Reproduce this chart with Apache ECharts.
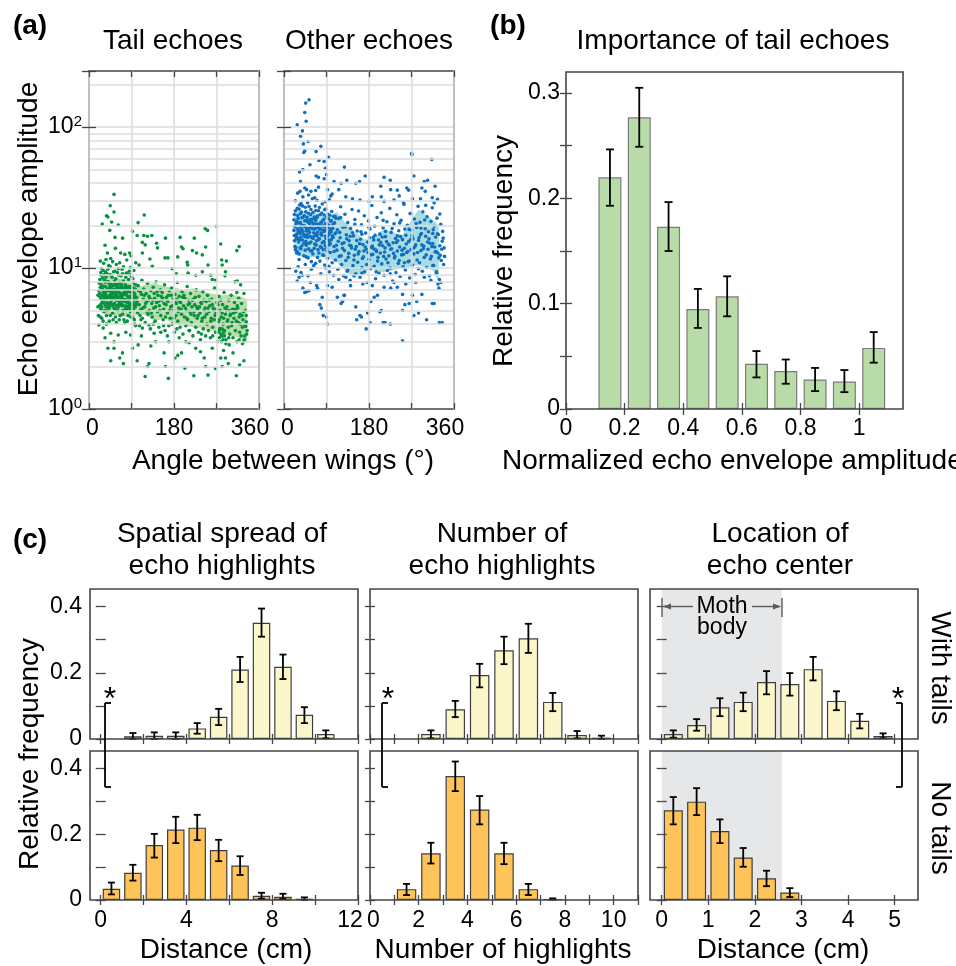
<!DOCTYPE html>
<html><head><meta charset="utf-8">
<script src="https://cdn.jsdelivr.net/npm/echarts@6/dist/echarts.min.js"></script>
<style>html,body{margin:0;padding:0;background:#fff}#c{width:956px;height:966px}</style>
</head><body><div id="c"></div>
<script>
// ---------------- DATA ----------------
// (a) scatter: [angle between wings (deg), echo envelope amplitude]
const tailEchoes = [
[22,7.8],[24,6.2],[25,5.1],[26,8.9],[27,4.4],[28,7.1],[29,5.8],[30,9.6],[31,6.7],[32,4.9],[33,8.2],[34,5.5],[35,7.4],[36,6.1],[37,4.6],[38,9.1],[39,6.9],[40,5.3],[41,8.0],[42,7.2],[43,4.2],[44,6.4],[45,10.2],[46,5.7],[47,7.7],[48,6.0],[49,8.6],[50,4.8],[51,6.6],[52,9.4],[53,5.2],[54,7.0],[55,6.3],[56,4.5],[57,8.4],[58,5.9],[59,7.5],[60,6.8],[61,5.0],[62,9.9],[63,6.2],[64,4.3],[65,7.9],[66,5.6],[67,6.5],[68,8.8],[69,5.4],[70,7.3],[71,4.7],[72,6.0],[73,8.1],[74,5.8],[75,6.9],[76,4.1],[77,7.6],[78,5.3],[79,9.2],[80,6.4],[81,5.1],[82,7.0],[83,4.6],[84,8.3],[85,6.1],[86,5.5],[87,7.4],[88,4.9],[89,6.7],[90,8.7],[91,5.2],[92,6.3],[93,4.4],[94,7.8],[95,5.9],[96,6.6],[97,4.0],[98,7.1],[99,5.6],
[23,6.6],[26,5.6],[29,7.0],[31,5.9],[34,6.5],[36,8.6],[39,5.0],[41,6.3],[44,7.6],[46,6.8],[49,5.4],[52,6.1],[54,8.1],[57,5.1],[59,6.4],[62,7.2],[64,5.8],[67,7.4],[69,6.2],[72,5.0],[74,7.1],[77,6.0],[79,5.4],[82,6.8],[84,5.7],[87,6.3],[89,5.0],[92,7.3],[94,5.5],[97,6.2],[27,6.0],[33,6.9],[38,5.7],[43,5.2],[48,7.0],[53,6.7],[58,7.2],[63,5.5],[68,6.0],[73,6.6],[78,7.3],[83,5.9],[88,7.0],[93,6.0],[98,5.3],[19,5.3],[20,4.6],[19,6.4],
[21,6.9],[22,5.4],[23,8.3],[24,7.3],[25,6.0],[26,7.6],[27,5.3],[28,6.4],[29,8.5],[30,5.7],[31,7.4],[32,6.2],[33,5.0],[34,7.9],[35,6.6],[36,5.3],[37,7.0],[38,6.3],[39,8.0],[40,6.1],[41,5.6],[42,6.9],[43,7.8],[44,5.5],[45,6.2],[46,7.3],[47,5.9],[48,6.5],[49,7.1],[50,6.2],[51,5.5],[52,7.5],[53,6.0],[54,5.6],[55,7.7],[56,6.6],[57,6.0],[58,5.4],[59,6.9],[60,7.6],[61,6.1],[62,5.3],[63,7.8],[64,6.7],[65,5.6],[66,7.1],[67,5.8],[68,6.6],[69,7.7],[70,5.5],[71,6.4],[72,7.3],[73,5.4],[74,6.5],[75,5.9],[76,7.0],[77,5.1],[78,6.6],[79,7.0],[80,5.7],[81,6.9],[82,5.3],[83,7.4],[84,6.2],[85,5.2],[86,7.2],[87,5.6],[88,6.8],[89,5.4],[90,6.0],[91,7.0],[92,5.6],[93,6.8],[94,5.1],[95,7.1],[96,5.4],[97,6.5],[98,6.0],[99,7.6],[100,5.5],
[24,4.5],[30,4.2],[37,4.0],[45,4.6],[51,4.3],[58,4.1],[66,4.6],[74,4.3],[81,4.2],[89,4.5],[96,4.3],[25,9.3],[32,9.0],[40,9.8],[47,8.9],[55,9.5],[63,8.9],[71,9.1],[78,8.6],[86,9.0],[93,8.4],
[101,6.2],[103,4.8],[104,7.5],[106,5.5],[107,3.9],[109,6.8],[110,5.1],[112,8.2],[113,4.4],[115,6.0],[116,7.1],[118,5.3],[119,4.1],[121,6.6],[122,5.8],[124,7.8],[125,4.7],[127,6.3],[128,5.0],[130,3.7],[131,6.9],[133,5.6],[134,4.5],[136,7.3],[137,5.2],[139,6.1],[140,4.2],[142,8.0],[143,5.7],[145,4.9],[146,6.4],[148,3.8],[149,5.4],[151,7.0],[152,4.6],[154,5.9],[155,6.7],[157,4.3],[158,5.1],[160,7.6],[161,3.6],[163,5.5],[164,6.2],[166,4.8],[167,5.8],[169,3.9],[170,6.9],[172,4.4],[173,5.3],[175,7.2],[176,4.0],[178,6.0],[179,5.0],[181,3.5],[182,6.5],[184,4.6],[185,5.6],[187,7.9],[188,4.2],[190,5.2],[191,6.3],[193,3.8],[194,5.7],[196,4.7],[197,6.8],[199,3.4],[200,5.4],[202,4.5],[203,6.1],[205,3.9],[206,5.0],[208,7.4],[209,4.3],[211,5.9],[212,3.6],[214,4.9],[215,6.6],[217,4.1],[218,5.3],[220,3.3],[221,6.0],[223,4.6],[224,5.5],[226,3.8],[227,7.0],[229,4.4],[230,5.1],[232,3.5],[233,6.3],[235,4.8],[236,3.1],[238,5.6],[239,4.2],[241,6.8],[242,3.7],[244,5.0],[245,4.5],[247,3.3],[248,5.8],[250,4.0],[251,6.4],[253,3.6],[254,4.9],[256,5.4],[257,3.2],[259,4.4],[260,6.0],[262,3.8],[263,5.2],[265,4.3],[266,7.2],[268,3.5],[269,4.8],[271,5.7],[272,3.0],[274,4.1],[275,6.3],[277,3.7],[278,5.0],[280,4.5],[281,3.3],[283,5.5],[284,4.0],[286,6.7],[287,3.6],[289,4.7],[290,3.1],[292,5.3],[293,4.2],[295,3.8],[296,5.9],[298,3.4],[299,4.6],[301,6.4],[302,3.9],[304,5.1],[305,3.2],[307,4.4],[308,5.7],[310,3.6],[311,4.9],[313,3.0],[314,5.4],[316,4.1],[317,6.1],[319,3.5],[320,4.7],[322,3.3],[323,5.6],[325,3.8],[326,4.3],[328,6.6],[329,3.1],[331,5.0],[332,4.0],[334,3.4],
[102,5.8],[108,4.6],[111,6.5],[114,5.2],[120,5.6],[123,4.9],[129,6.1],[132,4.8],[135,5.9],[141,5.3],[144,6.8],[150,5.0],[153,6.3],[159,5.6],[162,4.5],[168,6.4],[171,5.0],[177,5.4],[180,4.4],[186,6.0],[189,4.9],[195,5.1],[198,6.2],[204,5.2],[207,4.4],[213,5.6],[216,4.7],[222,4.9],[225,6.2],[231,4.6],[234,5.3],[240,4.4],[243,5.9],[249,4.7],[252,5.2],[258,4.2],[261,5.5],[267,4.6],[270,5.1],[276,4.3],[279,5.9],[285,4.4],[288,5.2],[294,4.3],[297,5.0],[303,4.1],[306,4.8],[312,4.2],[315,5.2],[321,4.0],[324,4.6],[330,3.9],[333,4.6],[335,3.6],[110,4.3],[136,4.0],[158,3.9],[186,3.7],[213,3.6],[238,3.4],[262,3.3],[296,3.2],[318,3.1],[330,3.3],
[105,6.9],[117,6.4],[126,5.9],[138,6.6],[147,5.8],[156,6.1],[165,5.9],[174,6.4],[183,5.7],[192,5.8],[201,6.4],[210,5.5],[219,5.9],[228,5.3],[237,5.7],[246,5.2],[255,5.9],[264,5.0],[273,5.5],[282,4.8],[291,5.0],[300,4.7],[309,5.1],[318,4.5],[327,4.9],[280,3.0],[284,3.1],[276,3.2],[290,2.9],[273,3.5],[276,3.6],[279,3.4],[282,3.7],[285,3.5],[287,3.3],[277,3.7],[283,3.3],
[53,33.3],[45,27.7],[37,23.5],[40,23],[53,25],[28,20.5],[48,21.2],[62,20.2],[104,21],[117,23.8],[44,18.5],[92,18.2],[55,16.5],[71,16.3],[116,17],[124,16.8],[133,17],[102,17],[162,16.3],[193,16.5],[223,16.3],[246,19],[251,18.5],[270,19.8],[279,14.8],[318,14.2],[313,13.3],[113,15.2],[119,14.6],[143,15],[145,13.9],[196,14.1],[199,13.7],[247,14.1],[219,13.3],[228,12.8],[240,12.4],[161,11.8],[167,11.8],[188,12],[208,11],[209,10.5],[252,10.5],[281,11.4],[291,11.2],[282,10.5],[34,14.5],[39,12.8],[46,11.7],[56,13.8],[67,12.8],[76,12.5],[86,12.8],[89,12.2],[113,12.8],[129,11.6],[99,10.9],[106,10.5],[134,10.3],[176,9.9],[185,9.1],[210,9.2],[226,8.9],[240,9.4],[258,8.9],[261,8.3],[268,8.2],[289,9.4],[288,8.8],[309,8.0],[314,8.1],[321,7.6],[313,6.7],
[24,11.2],[31,10.8],[36,11.5],[42,10.4],[50,11.1],[58,10.6],[65,10.9],[73,10.2],[80,11.4],[88,10.1],[95,9.6],[27,9.9],[35,9.4],[44,9.0],[60,9.3],[70,9.8],[85,9.5],
[46,2.2],[71,2.5],[65,2.3],[73,2.1],[102,2.2],[119,1.7],[124,2.0],[127,2.1],[131,2.8],[159,2.5],[162,2.0],[168,1.65],[182,2.3],[203,1.95],[222,1.72],[247,2.0],[252,1.74],[268,1.94],[282,2.0],[289,2.3],[295,2.1],[312,1.72],[319,2.05],[328,2.2],[40,2.7],[53,2.7],[92,2.7],[104,2.85],[111,3.3],[141,3.0],[169,3.0],[188,2.4],[196,2.5],[212,2.95],[226,2.7],[236,2.55],[244,2.3],[261,2.7],[279,2.3],[285,2.6],[297,2.85],[305,2.5],[325,2.9],[332,3.85],[333,4.15],[327,3.0],[191,3.2],[205,3.0],[152,3.5],[166,3.3],[21,3.95],[30,3.75],[34,3.2],[46,3.45],[53,3.0],[62,3.35],[78,3.5],[88,3.35],[99,3.9],[113,3.75],[127,3.95],[138,3.45]
];
const otherEchoes = [
[21,18.5],[22,24],[23,14.2],[24,30],[25,20.5],[26,16],[27,12.8],[28,26.5],[29,19],[30,22.5],[31,15.3],[32,11.5],[33,28],[34,17.6],[35,21],[36,13.7],[37,25],[38,18.8],[39,15.8],[40,32],[41,20],[42,12.2],[43,23.5],[44,16.7],[45,27],[46,19.5],[47,14.5],[48,21.8],[49,17.2],[50,29],[51,11.8],[52,24.5],[53,18.2],[54,15],[55,22],[56,13.2],[57,26],[58,19.8],[59,16.4],[60,31],[61,12.6],[62,20.8],[63,17.8],[64,23],[65,14.8],[66,27.5],[67,10.8],[68,19.2],[69,15.6],[70,22.8],[71,18],[72,13.5],[73,25.5],[74,16.2],[75,20.2],[76,11.2],[77,24],[78,17.4],[79,14],[80,21.2],[81,28.5],[82,12.4],[83,18.6],[84,15.4],[85,23.8],[86,10.5],[87,19.6],[88,16.8],[89,26.2],[90,13.8],[91,20.6],[92,11.7],[93,17],[94,22.4],[95,14.6],[96,30.5],[97,18.4],[98,12.9],[99,21.5],[100,15.9],[101,25.2],[102,10.9],[103,19.1],[104,16.5],[105,23.2],[106,13.1],[107,20.9],[108,17.5],[109,11.4],[110,22.6],
[22,17],[25,16.8],[27,21.5],[30,18.2],[33,15.9],[35,19.6],[38,22.7],[41,17.3],[43,19.9],[46,15.5],[48,18.8],[51,21.1],[54,17.9],[56,19.3],[59,22.2],[61,16.6],[64,18.9],[67,21.7],[69,17.5],[72,20.4],[75,16.1],[77,19],[80,17.1],[83,21.9],[85,15.2],[88,18.5],[91,16.3],[94,19.7],[97,15.1],[100,18.1],[24,13.5],[32,12.6],[47,12.0],[58,11.1],[71,11.9],[84,12.3],[95,10.3],[36,28.7],[52,33],[65,31.5],[29,34],[44,37],[57,35],[70,30.2],[87,29.5],[99,32.5],
[21,22],[22,15.6],[23,19.6],[24,25.5],[25,14],[26,21.3],[27,17.4],[28,13.1],[29,23.6],[30,16.3],[31,20.9],[32,26.2],[33,18.4],[34,13.9],[35,24.3],[36,16.6],[37,20.1],[38,14.4],[39,27.6],[40,18.1],[41,23],[42,15],[43,17.2],[44,21.6],[45,13.4],[46,25.1],[47,18.3],[48,14.9],[49,22.9],[50,16.5],[51,19.1],[52,13.7],[53,27.3],[54,20.7],[55,16.8],[56,23.9],[57,15.3],[58,21.4],[59,13.3],[60,19],[61,24.8],[62,16.2],[63,20.2],[64,13.8],[65,22.4],[66,17.1],[67,25.6],[68,14.6],[69,20.5],[70,16.9],[71,23.4],[72,15.8],[73,19.4],[74,12.8],[75,26.9],[76,18.7],[77,14.2],[78,21],[79,17.7],[80,24.6],[81,15.1],[82,19.9],[83,13.5],[84,22.1],[85,18.2],[86,25.9],[87,14.4],[88,20.7],[89,16.2],[90,22.9],[91,13.2],[92,19.3],[93,24.2],[94,15.7],[95,20],[96,17.6],[97,23.7],[98,14.8],[99,18.9],[100,21.7],[102,16.9],[104,20.4],[106,14.2],[108,23.3],[110,17.8],
[111,14.5],[113,18.7],[114,9.8],[116,22.5],[117,12.1],[119,16.4],[120,27.2],[122,10.6],[123,14.9],[125,19.5],[126,8.8],[128,13.3],[129,24.1],[131,11.3],[132,17.2],[134,9.5],[135,21],[137,12.7],[138,15.6],[140,8.2],[141,19.1],[143,13.9],[144,26],[146,10.4],[147,16.9],[149,12.3],[150,22.1],[152,9.1],[153,14.2],[155,18.3],[156,11],[158,25.4],[159,13.1],[161,8.6],[162,16],[164,20.3],[165,10.1],[167,14.7],[168,12],[170,23.5],[171,9.4],[173,17.7],[174,13.6],[176,7.9],[177,15.3],[179,21.6],[180,11.5],[182,18.9],[183,9.9],[185,14],[186,27.8],[188,12.5],[189,16.5],[191,10.3],[192,19.8],[194,8.4],[195,13.4],[197,22.8],[198,11.2],[200,15.8],[201,9.2],[203,17.4],[204,12.8],[206,24.7],[207,10.7],[209,14.4],[210,19.3],[212,8.9],[213,13],[215,16.7],[216,11.6],[218,21.3],[219,9.6],[221,14.8],[222,12.2],[224,26.5],[225,10],[227,17.9],[228,13.7],[230,8.1],[231,15.1],[233,20.6],[234,11.8],[236,16.2],[237,9.3],[239,23.9],[240,13.2],[242,10.8],[243,18.4],[245,14.1],[246,8.7],[248,21.8],[249,12.4],[251,15.9],[252,10.2],[254,28.3],[255,13.8],[257,9.7],[258,17.1],[260,12.9],[261,20.1],[263,11.1],[264,15.4],[266,8.5],[267,24.4],[269,13.5],[270,18.6],[272,10.5],[273,16.1],[275,12.6],[276,22.3],[278,9],[279,14.6],[281,19.4],[282,11.4],[284,27.4],[285,15.7],[287,10.9],[288,21.1],[290,13.3],[291,17.6],[293,9.5],[294,25.1],[296,14.3],[297,11.9],[299,19],[300,16.8],[302,10.1],[303,23.1],[305,13.6],[306,18.1],[308,8.8],[309,15],[311,21.4],[312,12.1],[314,26.8],[315,14.9],[317,10.4],[318,19.7],[320,13],[321,16.6],[323,9.4],[324,22.6],[326,12.8],[327,17.3],[329,8.3],[330,14.4],[332,20.4],[333,11.3],[335,15.5],[336,18.2],[338,10.6],[339,13.9],
[112,13.4],[118,17.9],[121,12.2],[127,15.1],[130,19.6],[136,11.9],[139,14.5],[145,17.8],[148,11.4],[154,15.7],[157,12.6],[163,18.1],[166,11.7],[172,14.1],[175,10.6],[181,16.4],[184,12.4],[190,13.7],[193,17.1],[199,11.9],[202,14.6],[208,16.6],[211,12.1],[217,15.4],[220,10.9],[226,13.6],[229,19.1],[235,12.1],[238,15.2],[244,11.3],[247,16.7],[253,12.5],[256,18.9],[262,13.1],[265,11.2],[271,16.9],[274,13.9],[280,20.7],[283,12.9],[289,17.2],[292,14.6],[298,21.9],[301,12.4],[307,16.1],[310,11.6],[316,18.7],[319,14.1],[325,17.5],[328,11.8],[334,13.6],[337,16.3],[340,12.1],[120,22.8],[150,20.4],[180,19.4],[210,21.8],[245,20.9],[270,24.3],[300,27.9],[330,24.2],[135,9.7],[165,9.2],[195,9.4],[225,9.1],[255,10.9],[285,9.9],[315,10.4],
[115,15.5],[124,13.8],[133,16.1],[142,14.4],[151,13.6],[160,14.9],[169,13.2],[178,12.9],[187,14.3],[196,13.1],[205,15.2],[214,13.9],[223,14.5],[232,12.7],[241,15.6],[250,13.4],[259,14.8],[268,15.9],[277,14.1],[286,16.4],[295,13.7],[304,15.3],[313,14.2],[322,13.1],[331,12.3],[140,16.8],[165,17.4],[190,15.8],[215,18.2],[240,16.9],[265,18.8],[290,19.2],[315,17.6],
[53,156],[46,148],[44,127],[47,110],[28,104],[39,94],[35,86],[51,79],[41,76],[78,73],[44,68],[42,66],[68,67],[94,61],[270,65],[271,64],[313,59],[55,54],[74,58],[85,57],[128,52],[33,48],[40,50],[68,45],[73,44],[88,51],[90,46],[35,41],[85,43],[106,41],[121,40],[133,42],[152,40],[160,41],[172,45],[212,44],[225,42],[205,38],[226,36],[240,35.7],[260,37],[264,35.7],[275,45],[297,41],[304,42],[320,38],[292,37],[299,35],[34,35],[48,36],[67,35.5],[73,37.5],[92,36],[102,33.5],[116,36],[131,32],[145,31],[161,30.4],[180,29.7],[187,32],[206,32],[212,29.7],[233,30.4],[244,32.5],[253,29],[272,31],[289,31],[314,31.5],[325,30.7],[318,29],
[76,5.5],[79,5.2],[81,6.2],[92,4.0],[83,4.6],[90,4.5],[113,6.2],[124,5.8],[127,6.4],[121,5.6],[152,5.3],[154,4.3],[161,4.6],[164,4.5],[174,3.7],[182,4.1],[184,5.8],[191,6.2],[203,4.9],[206,5.0],[210,4.1],[214,4.1],[225,4.0],[251,5.0],[251,3.05],[256,5.5],[265,5.6],[275,4.6],[285,4.8],[302,4.3],[314,5.6],[318,5.6],[329,4.1],[335,4.1],[272,6.4],[281,5.8],[292,6.5],[177,4.8],[128,6.4],[141,7.5],[40,7.2],[44,6.7],[48,6.8],[53,6.9],[71,7.2],[28,8.1],[32,8.6],[39,8.9],[51,8.8],[56,7.9],[69,7.5],[92,7.5],[102,7.3],[116,8.3],[131,8.6],[148,8.8],[167,7.7],[187,7.5],[198,6.4],[212,7.3],[226,7.2],[233,7.9],[240,7.3],[251,6.5],[258,7.7],[279,7.9],[297,8.6],[311,8.2],[328,7.2],[332,7.9],[323,9.2],[326,7.7],
[25,9.5],[30,10.2],[36,9.3],[45,10.6],[58,9.8],[63,10.4],[78,9.1],[89,10.0],[96,9.4],[105,8.9]
];
// (a) shaded bands
const tailBandAngle = [25,40,60,80,95,100,120,140,160,180,200,220,240,260,280,300,320,335];
const tailBandUpper = [9.0,8.8,8.5,8.3,8.0,7.3,7.6,7.8,7.4,7.3,7.0,7.2,6.8,6.6,6.4,6.5,6.3,6.0];
const tailBandLower = [4.8,4.7,4.6,4.5,4.3,4.8,4.6,4.2,4.4,4.0,3.9,3.8,3.7,3.6,3.4,3.3,3.2,2.9];
const otherBandAngle = [22,40,60,80,100,112,130,150,170,190,210,230,250,270,285,300,315,328];
const otherBandUpper = [26,25,25,24,24,25,21,18,16,16,19,18,17,22,26,24,22,20];
const otherBandLower = [12.5,12,12,12,11.5,11,9.5,8.5,9.5,9.8,9.3,9.6,10,10.2,10.5,10,9.6,8.0];
const logGridValues = [2,3,4,5,6,7,8,9,10,20,30,40,50,60,70,80,90,100,200];

// (b) importance of tail echoes
const ampX  = [0.15,0.25,0.35,0.45,0.55,0.65,0.75,0.85,0.95,1.05];
const ampV  = [0.220,0.277,0.173,0.095,0.107,0.043,0.036,0.028,0.026,0.058];
const ampLo = [0.193,0.249,0.150,0.077,0.088,0.030,0.024,0.017,0.016,0.044];
const ampHi = [0.2465,0.305,0.1965,0.114,0.126,0.055,0.047,0.039,0.037,0.073];

// (c) spatial spread of echo highlights (cm)
const spreadTailX  = [1.5,2.5,3.5,4.5,5.5,6.5,7.5,8.5,9.5,10.5];
const spreadTailV  = [0.008,0.01,0.01,0.032,0.067,0.21,0.351,0.218,0.073,0.015];
const spreadTailLo = [0,0,0,0.016,0.042,0.172,0.309,0.181,0.048,0.002];
const spreadTailHi = [0.018,0.02,0.02,0.048,0.091,0.248,0.394,0.255,0.096,0.026];
const spreadNoX  = [0.5,1.5,2.5,3.5,4.5,5.5,6.5,7.5,8.5,9.5];
const spreadNoV  = [0.034,0.083,0.167,0.214,0.22,0.152,0.105,0.013,0.01,0.004];
const spreadNoLo = [0.017,0.059,0.129,0.173,0.182,0.118,0.076,0.004,0.003,0];
const spreadNoHi = [0.053,0.107,0.201,0.253,0.259,0.183,0.133,0.022,0.019,0.008];
// number of echo highlights
const countTailX  = [2.5,3.5,4.5,5.5,6.5,7.5,8.5,9.5];
const countTailV  = [0.015,0.09,0.193,0.268,0.304,0.112,0.012,0.004];
const countTailLo = [0.002,0.066,0.156,0.226,0.26,0.084,0.002,0];
const countTailHi = [0.026,0.115,0.227,0.309,0.348,0.139,0.024,0.01];
const countNoX  = [1.5,2.5,3.5,4.5,5.5,6.5,7.5];
const countNoV  = [0.033,0.142,0.377,0.275,0.142,0.033,0.003];
const countNoLo = [0.015,0.111,0.331,0.23,0.109,0.015,0.001];
const countNoHi = [0.049,0.174,0.421,0.316,0.174,0.049,0.005];
// location of echo center (cm)
const centerTailX  = [0.25,0.75,1.25,1.75,2.25,2.75,3.25,3.75,4.25,4.75];
const centerTailV  = [0.015,0.042,0.096,0.112,0.172,0.166,0.211,0.115,0.055,0.009];
const centerTailLo = [0.004,0.025,0.069,0.084,0.135,0.131,0.177,0.087,0.032,0.002];
const centerTailHi = [0.026,0.06,0.123,0.14,0.205,0.199,0.248,0.144,0.076,0.017];
const centerNoX  = [0.25,0.75,1.25,1.75,2.25,2.75];
const centerNoV  = [0.273,0.299,0.21,0.129,0.066,0.023];
const centerNoLo = [0.23,0.258,0.173,0.101,0.042,0.009];
const centerNoHi = [0.313,0.34,0.245,0.158,0.089,0.036];
const mothBodyExtent = [0, 2.58];

// tick label values
const ampTicks = [0,0.2,0.4,0.6,0.8,1];
const freqTicksB = [0,0.1,0.2,0.3];
const freqTicksC = [0,0.2,0.4];
const spreadTicks = [0,4,8,12];
const countTicks = [0,2,4,6,8,10];
const centerTicks = [0,1,2,3,4,5];

// ---------------- CHART ----------------
const FONT = '"Liberation Sans", Arial, Helvetica, sans-serif';
const AX = '#454545';
const chart = echarts.init(document.getElementById('c'), null, {renderer:'canvas'});

const gridBoxes = [
  {left:89, top:71, width:170, height:338},
  {left:284, top:71, width:170, height:338},
  {left:566, top:72, width:337, height:337},
  {left:90, top:589, width:268, height:150},
  {left:90, top:751, width:268, height:149},
  {left:370, top:589, width:268, height:150},
  {left:370, top:751, width:268, height:149},
  {left:650, top:589, width:268, height:150},
  {left:650, top:751, width:268, height:149}
];
const grids = gridBoxes.map(g => Object.assign({show:true, z:10, borderColor:AX, borderWidth:1.6, backgroundColor:'transparent'}, g));

function tick(custom, len) {
  const t = {show:true, inside:true, length:len||5, lineStyle:{color:AX, width:1.3}};
  if (custom) t.customValues = custom;
  return t;
}
function lab(custom, fmt, margin, rich) {
  const l = {show:true, color:'#000', fontSize:23, fontFamily:FONT, margin:margin};
  if (custom) l.customValues = custom;
  if (fmt) l.formatter = fmt;
  if (rich) l.rich = rich;
  return l;
}
function axis(gi, pos, o) {
  return Object.assign({gridIndex:gi, type:'value', position:pos, z:11,
    axisLine:{show:false}, axisLabel:{show:false}, splitLine:{show:false}, axisTick:tick()}, o);
}
const tickRich = {
  n:{fontSize:23, fontFamily:FONT, color:'#000'},
  l:{fontSize:23, fontFamily:FONT, color:'#000', padding:[0,0,0,7]},
  r:{fontSize:23, fontFamily:FONT, color:'#000', padding:[0,18,0,0]},
  r2:{fontSize:23, fontFamily:FONT, color:'#000', padding:[0,16,0,0]}
};
const angleFmt = v => v === 0 ? '{l|0}' : (v === 360 ? '{r|360}' : (v === 180 ? '{n|180}' : ''));
const gridLineStyle = {color:'#dcdcdc', width:1.5};
const powRich = {
  b:{fontSize:23, fontFamily:FONT, color:'#000', lineHeight:26},
  s:{fontSize:15, fontFamily:FONT, color:'#000', verticalAlign:'top', lineHeight:12}
};
const powFmt = v => { const l = Math.log10(v), r = Math.round(l); return Math.abs(l - r) < 1e-6 ? '{b|10}{s|' + r + '}' : ''; };

const xAxes = [], yAxes = [];
[0,1].forEach(gi => {
  xAxes.push(axis(gi,'bottom',{min:0,max:360,interval:90,axisTick:tick(null,6),
    axisLabel:lab(null, angleFmt, 8, tickRich), splitLine:{show:true, lineStyle:gridLineStyle}}));
  xAxes.push(axis(gi,'top',{min:0,max:360,interval:90,axisTick:tick(null,6)}));
  yAxes.push(axis(gi,'left',{type:'log', logBase:10, min:1, max:250, axisTick:tick(null,7),
    axisLabel: gi === 0 ? lab(null, powFmt, 7, powRich) : {show:false}}));
  yAxes.push(axis(gi,'right',{type:'log', logBase:10, min:1, max:250, axisTick:tick(null,7)}));
});
xAxes.push(axis(2,'bottom',{min:0,max:1.15,axisTick:tick(ampTicks,6),
  axisLabel:lab(ampTicks, v => String(v), 8)}));
xAxes.push(axis(2,'top',{min:0,max:1.15,axisTick:tick(ampTicks,6)}));
yAxes.push(axis(2,'left',{min:0,max:0.32,axisTick:tick([0,0.05,0.1,0.15,0.2,0.25,0.3],6),
  axisLabel:lab(freqTicksB, v => String(v), 6)}));
yAxes.push(axis(2,'right',{min:0,max:0.32,axisTick:tick([0,0.05,0.1,0.15,0.2,0.25,0.3],6)}));
const cCols = [
  {min:-0.5, max:12, ticks:[0,2,4,6,8,10,12], labels:spreadTicks, fmt: v => v === 12 ? '{r2|12}' : '{n|' + v + '}'},
  {min:0, max:11, ticks:[0,1,2,3,4,5,6,7,8,9,10,11], labels:countTicks, fmt: v => v === 0 ? '{l|0}' : '{n|' + v + '}'},
  {min:-0.25, max:5.5, ticks:[0,1,2,3,4,5], labels:centerTicks, fmt: v => '{n|' + v + '}'}
];
const cFreqTicks = [0,0.1,0.2,0.3,0.4];
for (let col = 0; col < 3; col++) {
  for (let row = 0; row < 2; row++) {
    const gi = 3 + col*2 + row;
    const c = cCols[col];
    xAxes.push(axis(gi,'bottom',{min:c.min,max:c.max,axisTick:tick(c.ticks,5),
      axisLabel: row === 1 ? lab(c.labels, c.fmt, 9, tickRich) : {show:false}}));
    xAxes.push(axis(gi,'top',{min:c.min,max:c.max,axisTick:tick(c.ticks,5)}));
    yAxes.push(axis(gi,'left',{min:0,max:0.453,axisTick:tick(cFreqTicks,5),
      axisLabel: col === 0 ? lab(freqTicksC, v => String(v), 8) : {show:false}}));
    yAxes.push(axis(gi,'right',{min:0,max:0.453,axisTick:tick(cFreqTicks,5)}));
  }
}

function bandSeries(gi, ang, up, lo, color) {
  return {type:'custom', xAxisIndex:2*gi, yAxisIndex:2*gi, z:1, silent:true, animation:false,
    data:[[ang[0], up[0]]],
    renderItem:(params, api) => {
      const pts = [];
      for (let i = 0; i < ang.length; i++) pts.push(api.coord([ang[i], up[i]]));
      for (let i = ang.length-1; i >= 0; i--) pts.push(api.coord([ang[i], lo[i]]));
      return {type:'polygon', shape:{points:pts}, style:{fill:color}};
    }};
}
function gridLineSeries(gi) {
  return {type:'scatter', xAxisIndex:2*gi, yAxisIndex:2*gi, data:[], z:0, silent:true,
    markLine:{silent:true, symbol:['none','none'], label:{show:false}, animation:false,
      lineStyle:{color:'#dcdcdc', width:1.5, type:'solid'},
      data: logGridValues.map(v => ({yAxis:v}))}};
}
function scatterSeries(gi, data, color) {
  return {type:'scatter', xAxisIndex:2*gi, yAxisIndex:2*gi, z:3, silent:true, data:data,
    symbol:'circle', symbolSize:3.6, itemStyle:{color:color, opacity:1}};
}
function barSeries(gi, xs, vs, color, border, width) {
  return {type:'bar', xAxisIndex:2*gi, yAxisIndex:2*gi, z:3, silent:true,
    data: xs.map((x,i) => [x, vs[i]]), barWidth:width,
    itemStyle:{color:color, borderColor:border, borderWidth:1.2}};
}
function errSeries(gi, xs, lo, hi, cap) {
  return {type:'custom', xAxisIndex:2*gi, yAxisIndex:2*gi, z:5, silent:true,
    data: xs.map((x,i) => [x, lo[i], hi[i]]), encode:{x:0, y:[1,2]},
    renderItem:(params, api) => {
      const x = api.value(0);
      const p1 = api.coord([x, api.value(1)]), p2 = api.coord([x, api.value(2)]);
      const h = cap/2, st = {stroke:'#000', lineWidth:1.8};
      return {type:'group', children:[
        {type:'line', shape:{x1:p1[0], y1:p1[1], x2:p2[0], y2:p2[1]}, style:st},
        {type:'line', shape:{x1:p1[0]-h, y1:p1[1], x2:p1[0]+h, y2:p1[1]}, style:st},
        {type:'line', shape:{x1:p2[0]-h, y1:p2[1], x2:p2[0]+h, y2:p2[1]}, style:st}]};
    }};
}
function bodySeries(gi) {
  return {type:'scatter', xAxisIndex:2*gi, yAxisIndex:2*gi, data:[], z:0, silent:true,
    markArea:{silent:true, itemStyle:{color:'#e6e7e9'}, animation:false,
      data:[[{xAxis:mothBodyExtent[0]},{xAxis:mothBodyExtent[1]}]]}};
}

const LIGHT = '#fcf7cb', ORANGE = '#fec459', CBORDER = '#3f3f3f';
const series = [
  gridLineSeries(0), gridLineSeries(1),
  bandSeries(0, tailBandAngle, tailBandUpper, tailBandLower, '#b9dea8'),
  bandSeries(1, otherBandAngle, otherBandUpper, otherBandLower, '#a8dce4'),
  scatterSeries(0, tailEchoes, '#079140'),
  scatterSeries(1, otherEchoes, '#116fbf'),
  barSeries(2, ampX, ampV, '#b8dca7', '#7b7b7b', 23),
  errSeries(2, ampX, ampLo, ampHi, 8),
  barSeries(3, spreadTailX, spreadTailV, LIGHT, CBORDER, 17.5),
  errSeries(3, spreadTailX, spreadTailLo, spreadTailHi, 7),
  barSeries(4, spreadNoX, spreadNoV, ORANGE, CBORDER, 17.5),
  errSeries(4, spreadNoX, spreadNoLo, spreadNoHi, 7),
  barSeries(5, countTailX, countTailV, LIGHT, CBORDER, 19.5),
  errSeries(5, countTailX, countTailLo, countTailHi, 7),
  barSeries(6, countNoX, countNoV, ORANGE, CBORDER, 19.5),
  errSeries(6, countNoX, countNoLo, countNoHi, 7),
  bodySeries(7), bodySeries(8),
  barSeries(7, centerTailX, centerTailV, LIGHT, CBORDER, 19),
  errSeries(7, centerTailX, centerTailLo, centerTailHi, 7),
  barSeries(8, centerNoX, centerNoV, ORANGE, CBORDER, 19),
  errSeries(8, centerNoX, centerNoLo, centerNoHi, 7)
];

function txt(t, x, y, o) {
  o = o || {};
  return {type:'text', x:x, y:y, rotation:o.rot || 0, z:20, silent:true,
    style:{text:t, x:0, y:0, font:(o.bold ? 'bold ' : '') + (o.size || 28) + 'px ' + FONT,
      fill:'#000', textAlign:o.align || 'center', textVerticalAlign:'middle'}};
}
function seg(x1, y1, x2, y2, color, w) {
  return {type:'line', z:20, silent:true, shape:{x1:x1,y1:y1,x2:x2,y2:y2}, style:{stroke:color||'#000', lineWidth:w||1.8}};
}
const R = Math.PI/2;
const graphics = [
  txt('(a)', 30, 26, {bold:true}), txt('(b)', 508, 26, {bold:true}), txt('(c)', 30, 540, {bold:true}),
  txt('Tail echoes', 173, 41), txt('Other echoes', 369, 41), txt('Importance of tail echoes', 733, 41),
  txt('Echo envelope amplitude', 29, 239, {rot:R}),
  txt('Angle between wings (°)', 283, 461),
  txt('Relative frequency', 504, 251, {rot:R}),
  txt('Normalized echo envelope amplitude', 502, 461, {align:'left'}),
  txt('Spatial spread of', 222, 534), txt('echo highlights', 222, 566),
  txt('Number of', 502, 534), txt('echo highlights', 502, 566),
  txt('Location of', 780, 534), txt('echo center', 780, 566),
  txt('Relative frequency', 30, 754, {rot:R}),
  txt('Distance (cm)', 226, 950), txt('Number of highlights', 503, 950), txt('Distance (cm)', 783, 950),
  txt('With tails', 940, 668, {rot:-R}), txt('No tails', 940, 828, {rot:-R}),
  txt('Moth', 722, 607, {size:23}), txt('body', 722, 628, {size:23}),
  seg(105, 703, 105, 787), seg(105, 703, 111, 703), seg(105, 787, 111, 787), txt('*', 110, 700, {size:32}),
  seg(382, 703, 382, 787), seg(382, 703, 388, 703), seg(382, 787, 388, 787), txt('*', 388, 700, {size:32}),
  seg(902, 703, 902, 787), seg(902, 703, 896, 703), seg(902, 787, 896, 787), txt('*', 898, 700, {size:32}),
  seg(662, 598, 662, 617, '#5a5a5a', 1.4), seg(782, 598, 782, 617, '#5a5a5a', 1.4),
  seg(664, 606.5, 693, 606.5, '#5a5a5a', 1.4), seg(752, 606.5, 780, 606.5, '#5a5a5a', 1.4),
  {type:'polygon', z:20, silent:true, shape:{points:[[663,606.5],[671,603.5],[671,609.5]]}, style:{fill:'#5a5a5a'}},
  {type:'polygon', z:20, silent:true, shape:{points:[[781,606.5],[773,603.5],[773,609.5]]}, style:{fill:'#5a5a5a'}}
];

chart.setOption({
  animation:false,
  backgroundColor:'#fff',
  grid:grids, xAxis:xAxes, yAxis:yAxes, series:series, graphic:graphics
});
</script></body></html>
